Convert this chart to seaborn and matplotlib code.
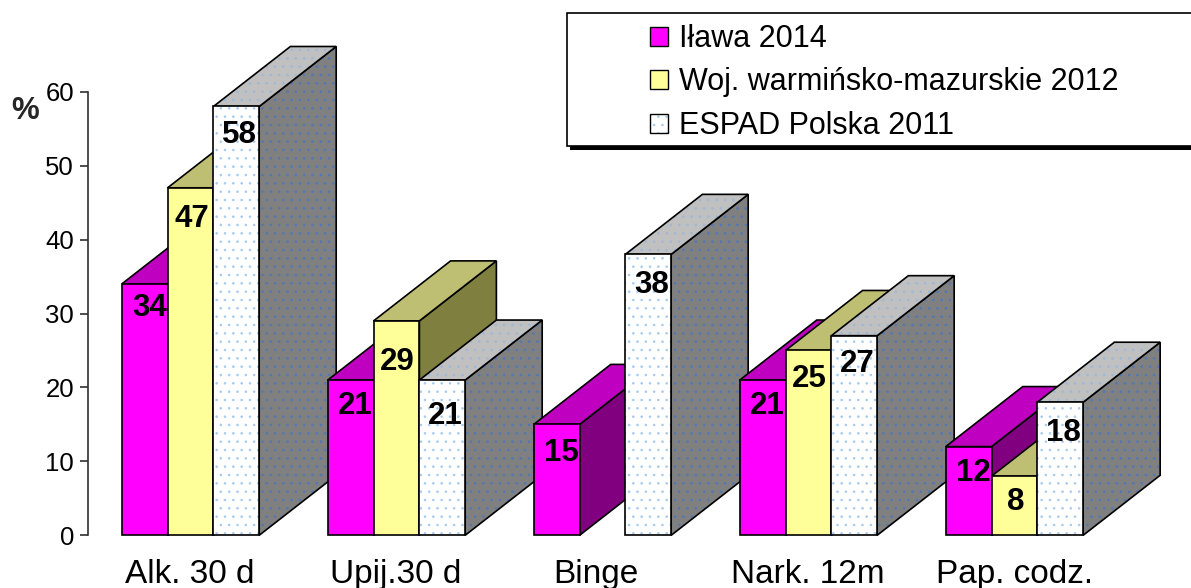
import numpy as np
import pandas as pd
import matplotlib
matplotlib.use("Agg")
import matplotlib.pyplot as plt
import seaborn as sns
from matplotlib.legend_handler import HandlerTuple
from matplotlib.patches import Patch, Polygon, Rectangle
from matplotlib.transforms import ScaledTranslation

categories = ["Alk. 30 d", "Upij.30 d", "Binge", "Nark. 12m", "Pap. codz."]
series_names = ["Iława 2014", "Woj. warmińsko-mazurskie 2012", "ESPAD Polska 2011"]
ilawa = [34, 21, 15, 21, 12]
wojewodztwo = [47, 29, np.nan, 25, 8]
espad = [58, 21, 38, 27, 18]
y_ticks = [0, 10, 20, 30, 40, 50, 60]

W, H = 1191, 588
front = ["#FF00FF", "#FFFF99", "#FFFFFF"]
top = ["#C000C0", "#BFBF73", "#C0C0C0"]
side = ["#800080", "#7F7F40", "#808080"]
dots_front = "#A6CAF0"
dots_top = "#9DB8D8"
dots_side = "#5078B8"

df = pd.DataFrame({
    "cat": categories * 3,
    "series": [s for s in series_names for _ in categories],
    "value": ilawa + wojewodztwo + espad,
})

sns.set_theme(style="white")
plt.rcParams["font.family"] = ["Liberation Sans", "DejaVu Sans"]
plt.rcParams["hatch.linewidth"] = 0.6

fig = plt.figure(figsize=(W / 100, H / 100), dpi=100)
# axes placed in pixels: spine at x=88, y=0 at 535, y=60 at 92
ax = fig.add_axes([88 / W, 1 - 535.3 / H, (W - 88) / W, (535.3 - 91.7) / H])
ax.patch.set_alpha(0)

sns.barplot(data=df, x="cat", y="value", hue="series", hue_order=series_names,
            palette=front, saturation=1, width=0.667, gap=0, dodge=True,
            edgecolor="black", linewidth=1.2, ax=ax, legend=False)

ax.set_xlim(-0.4976, 4.857)
ax.set_ylim(0, 60)
ax.set_xlabel("")
ax.set_ylabel("")
ax.set_yticks(y_ticks)
sns.despine(ax=ax, top=True, right=True, bottom=True)
ax.spines["left"].set_color("#303030")
ax.spines["left"].set_linewidth(1.2)
ax.tick_params(axis="y", left=True, length=6, width=1.2, color="#303030", pad=4,
               labelsize=18.5, labelcolor="black")
ax.tick_params(axis="x", bottom=False, pad=11, labelsize=24, labelcolor="black")

# "Binge" label sits a bit left of its group
for lab, shift in zip(ax.get_xticklabels(), [-1, -1, -7, -1, 0]):
    lab.set_transform(lab.get_transform() + ScaledTranslation(shift / 100, 0, fig.dpi_scale_trans))

# depth of the fake 3D block, in data units
dx = 77 / (206)
dy = 60 / ((535.3 - 91.7) / 60)

label_dx = [5, 1, 3]
label_dy = [-26, -31, -31]
nudges = {(0, 0): 2, (2, 0): -3, (1, 1): -10, (1, 2): -5, (3, 1): 2, (4, 1): 5, (3, 2): 3, (0, 2): 2}


def face(verts, color, dot_color, z):
    if dot_color:
        ax.add_patch(Polygon(verts, closed=True, facecolor=color, edgecolor=dot_color, hatch="..",
                             linewidth=0, zorder=z, clip_on=False))
        ax.add_patch(Polygon(verts, closed=True, fill=False, edgecolor="black", linewidth=1.2,
                             zorder=z + 0.01, clip_on=False))
    else:
        ax.add_patch(Polygon(verts, closed=True, facecolor=color, edgecolor="black", linewidth=1.2,
                             zorder=z, clip_on=False))


for h, container in enumerate(ax.containers):
    for bar in container:
        val = bar.get_height()
        if np.isnan(val):
            continue
        x0, x1 = bar.get_x(), bar.get_x() + bar.get_width()
        g = int(round((x0 + x1) / 2))
        z = 3 + g * 3 + h * 0.5
        white = h == 2
        face([(x1, 0), (x1 + dx, dy), (x1 + dx, val + dy), (x1, val)], side[h],
             dots_side if white else None, z)
        face([(x0, val), (x0 + dx, val + dy), (x1 + dx, val + dy), (x1, val)], top[h],
             dots_top if white else None, z + 0.1)
        bar.set_zorder(z + 0.2)
        bar.set_clip_on(False)
        if white:
            bar.set_edgecolor(dots_front)
            bar.set_linewidth(0)
            bar.set_hatch("..")
            ax.add_patch(Rectangle((x0, 0), x1 - x0, val, fill=False, edgecolor="black",
                                   linewidth=1.2, zorder=z + 0.21, clip_on=False))
        ax.annotate(f"{val:.0f}", xy=((x0 + x1) / 2, val),
                    xytext=(label_dx[h] * 0.72, (label_dy[h] + nudges.get((g, h), 0)) * 0.72),
                    textcoords="offset points", ha="center", va="center",
                    fontsize=22.5, fontweight="bold", color="black", zorder=100)

fig.text(25 / W, 1 - 111 / H, "%", fontsize=22.5, fontweight="bold", ha="center", va="center")

# legend box runs off the right edge and has a heavy shadow underneath
ax.add_patch(Rectangle((570 / W, 1 - 150 / H), (W - 570) / W + 0.01, 136 / H, transform=fig.transFigure,
                       facecolor="black", edgecolor="none", zorder=200, clip_on=False))
ax.add_patch(Rectangle((567 / W, 1 - 145.5 / H), (W - 567) / W + 0.01, 133 / H, transform=fig.transFigure,
                       facecolor="white", edgecolor="black", linewidth=1.2, zorder=201, clip_on=False))

handles = [
    Patch(facecolor=front[0], edgecolor="black", linewidth=1.0),
    Patch(facecolor=front[1], edgecolor="black", linewidth=1.0),
    (Patch(facecolor="white", edgecolor=dots_front, hatch="..", linewidth=0),
     Patch(fill=False, edgecolor="black", linewidth=1.0)),
]
leg = ax.legend(handles, series_names, loc="upper left", bbox_to_anchor=(650 / W, 1 - 24 / H),
                bbox_transform=fig.transFigure, frameon=False, fontsize=22,
                borderpad=0, borderaxespad=0, labelcolor="black",
                handlelength=0.58, handleheight=0.58, handletextpad=0.36, labelspacing=0.44,
                handler_map={tuple: HandlerTuple(ndivide=1, pad=0)})
leg.set_zorder(300)

fig.savefig("out.png", dpi=100, facecolor="white")
